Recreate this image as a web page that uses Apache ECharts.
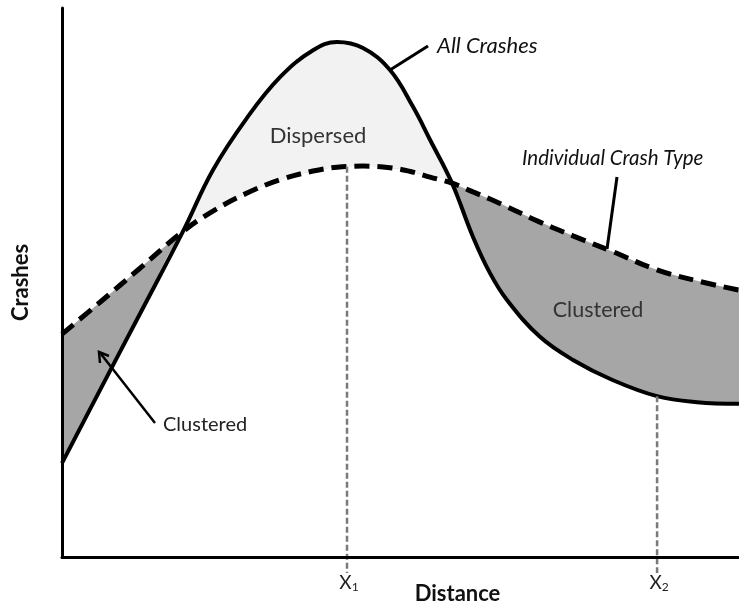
<!DOCTYPE html>
<html><head><meta charset="utf-8">
<script src="https://cdn.jsdelivr.net/npm/echarts@6/dist/echarts.min.js"></script>
<style>html,body{margin:0;padding:0;background:#fff}#c{width:739px;height:607px}</style>
</head><body><div id="c"></div><script>
// Distance (0-100 along the axis) and crash counts (0-100 scale)
const distance    = [0, 5.61, 11.52, 17.87, 22.30, 27.33, 32.20, 37.08, 40.62, 44.46, 48.45, 51.85, 54.36, 57.61, 60.71, 63.22, 65.73, 70.60, 75.48, 81.39, 87.89, 93.80, 100];
const allCrashes  = [17.1, 30.4, 44.3, 59.3, 70.5, 80.0, 87.4, 92.3, 93.8, 92.7, 88.7, 82.0, 76.0, 68.1, 58.3, 51.7, 46.8, 40.1, 35.9, 32.2, 29.3, 28.2, 27.9];
const crashType   = [40.6, 46.4, 52.6, 59.3, 63.0, 66.3, 68.7, 70.3, 71.0, 71.2, 70.9, 70.1, 69.2, 68.1, 66.5, 65.2, 63.8, 61.0, 58.5, 55.6, 52.3, 50.3, 48.6];
// Reference distances X1, X2 and the height where their guide lines stop
const markerX     = [42.1, 87.9];
const markerTop   = [71.1, 29.3];
const markerSub   = ['1', '2'];

const S = 0.4;
const pts = arr => distance.map((d, i) => [d, arr[i]]);
const minCurve = distance.map((d, i) => [d, Math.min(allCrashes[i], crashType[i])]);

const chart = echarts.init(document.getElementById('c'), null, {renderer: 'canvas'});
const FONT = 'Lato, "Open Sans", sans-serif';

const markerSeries = markerX.map((x, i) => ({
  type: 'line', data: [[x, markerTop[i]], [x, -2.9]], symbol: 'none', clip: false, z: 6, silent: true,
  lineStyle: {color: '#7a7a7a', width: 2.5, type: [6, 3]},
  endLabel: {show: true, formatter: 'X{s|' + markerSub[i] + '}',
    color: '#222', fontFamily: FONT, fontSize: 19, align: 'center', verticalAlign: 'top', distance: 2,
    rich: {s: {fontSize: 12, fontFamily: FONT, color: '#222', padding: [8, 0, 0, 0]}}}
}));

chart.setOption({
  animation: false,
  backgroundColor: '#fff',
  grid: {left: 62, right: 0, top: 8, bottom: 50, containLabel: false, outerBoundsMode: 'none'},
  xAxis: {type: 'value', min: 0, max: 100, z: 10,
    axisLine: {show: true, onZero: false, lineStyle: {color: '#000', width: 3}},
    axisTick: {show: false}, axisLabel: {show: false}, splitLine: {show: false},
    name: 'Distance', nameLocation: 'middle', nameGap: 26,
    nameTextStyle: {fontFamily: FONT, fontWeight: 'bold', fontSize: 22, color: '#111', padding: [0, 0, 0, 114]}},
  yAxis: {type: 'value', min: 0, max: 100, z: 10,
    axisLine: {show: true, onZero: false, lineStyle: {color: '#000', width: 3}},
    axisTick: {show: false}, axisLabel: {show: false}, splitLine: {show: false},
    name: 'Crashes', nameLocation: 'middle', nameGap: 30, nameRotate: 90,
    nameTextStyle: {fontFamily: FONT, fontWeight: 'bold', fontSize: 22, color: '#111'}},
  series: [
    {type: 'line', data: pts(allCrashes), smooth: S, symbol: 'none', z: 1, silent: true,
      lineStyle: {width: 0, opacity: 0}, areaStyle: {color: '#f2f2f2', opacity: 1}},
    {type: 'line', data: pts(crashType), smooth: S, symbol: 'none', z: 2, silent: true,
      lineStyle: {width: 0, opacity: 0}, areaStyle: {color: '#a6a6a6', opacity: 1}},
    {type: 'line', data: minCurve, smooth: S, symbol: 'none', z: 3, silent: true,
      lineStyle: {width: 0, opacity: 0}, areaStyle: {color: '#ffffff', opacity: 1}},
    {type: 'line', name: 'All Crashes', data: pts(allCrashes), smooth: S, symbol: 'none', z: 5,
      lineStyle: {color: '#000', width: 4}},
    {type: 'line', name: 'Individual Crash Type', data: pts(crashType), smooth: S, symbol: 'none', z: 5,
      lineStyle: {color: '#000', width: 5, type: [15, 8], cap: 'butt'}},
    ...markerSeries
  ],
  graphic: [
    {type: 'text', x: 318, y: 136, z: 20, style: {text: 'Dispersed', font: '22px ' + FONT, fill: '#333', textAlign: 'center', textVerticalAlign: 'middle'}},
    {type: 'text', x: 598, y: 310, z: 20, style: {text: 'Clustered', font: '21.5px ' + FONT, fill: '#333', textAlign: 'center', textVerticalAlign: 'middle'}},
    {type: 'text', x: 163, y: 425, z: 20, style: {text: 'Clustered', font: '20px ' + FONT, fill: '#222', textAlign: 'left', textVerticalAlign: 'middle'}},
    {type: 'text', x: 437, y: 46, z: 20, style: {text: 'All Crashes', font: 'italic 22px ' + FONT, fill: '#111', textAlign: 'left', textVerticalAlign: 'middle'}},
    {type: 'text', x: 522, y: 158, z: 20, style: {text: 'Individual Crash Type', font: 'italic 20.5px ' + FONT, fill: '#111', textAlign: 'left', textVerticalAlign: 'middle'}},
    {type: 'line', z: 20, shape: {x1: 390, y1: 70, x2: 428, y2: 46}, style: {stroke: '#000', lineWidth: 3}},
    {type: 'line', z: 20, shape: {x1: 617, y1: 177, x2: 607, y2: 249}, style: {stroke: '#000', lineWidth: 3}},
    {type: 'line', z: 20, shape: {x1: 155, y1: 423, x2: 101, y2: 354}, style: {stroke: '#000', lineWidth: 2.5}},
    {type: 'polyline', z: 20, shape: {points: [[100, 363], [99, 352], [109, 356]]}, style: {stroke: '#000', lineWidth: 2.5, fill: null}}
  ]
});
</script></body></html>
